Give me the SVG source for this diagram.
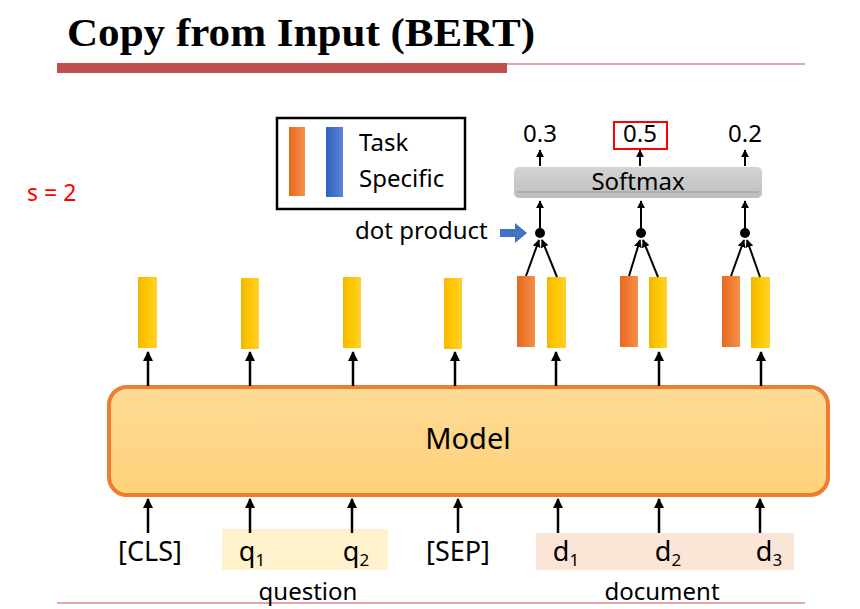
<svg xmlns="http://www.w3.org/2000/svg" width="860" height="609" viewBox="0 0 860 609">
<style>
.t{font-family:"Noto Sans","Open Sans","Liberation Sans",sans-serif;fill:#000}
.c{stroke:#000;stroke-width:2.5;fill:none}
.ct{stroke:#000;stroke-width:2;fill:none}
</style>
<defs>
<marker id="ah" viewBox="0 0 10 10" refX="9" refY="5" markerWidth="4" markerHeight="4" orient="auto"><path d="M0,0 L10,5 L0,10 z" fill="#000"/></marker>
<marker id="ahs" viewBox="0 0 10 10" refX="9" refY="5" markerWidth="4" markerHeight="4" orient="auto"><path d="M0,0 L10,5 L0,10 z" fill="#000"/></marker>
<linearGradient id="yel" x1="0" y1="0" x2="1" y2="0"><stop offset="0" stop-color="#F2B800"/><stop offset="0.5" stop-color="#FFC800"/><stop offset="1" stop-color="#FFD030"/></linearGradient>
<linearGradient id="org" x1="0" y1="0" x2="1" y2="0"><stop offset="0" stop-color="#E8691E"/><stop offset="1" stop-color="#F59048"/></linearGradient>
<linearGradient id="blu" x1="0" y1="0" x2="1" y2="0"><stop offset="0" stop-color="#2F5FC0"/><stop offset="1" stop-color="#5A85D8"/></linearGradient>
<linearGradient id="mod" x1="0" y1="0" x2="0" y2="1"><stop offset="0" stop-color="#FFDB98"/><stop offset="1" stop-color="#FFD179"/></linearGradient>
<linearGradient id="gry" x1="0" y1="0" x2="0" y2="1"><stop offset="0" stop-color="#D4D4D4"/><stop offset="1" stop-color="#BEBEBE"/></linearGradient>
</defs>

<g id="title">
<text x="67" y="46" font-family="'Liberation Serif','Times New Roman',serif" font-weight="bold" font-size="40" textLength="468" lengthAdjust="spacingAndGlyphs">Copy from Input (BERT)</text>
<rect x="57" y="63" width="450" height="10" fill="#C0504D"/>
<line x1="507" y1="64" x2="805" y2="64" stroke="#C0504D" stroke-width="1.2"/>
<line x1="57" y1="603" x2="805" y2="603" stroke="#C0504D" stroke-width="1"/>
</g>

<g id="s-label"><text class="t" x="27" y="201" font-size="23" style="fill:#FF0000">s = 2</text></g>

<g id="legend">
<rect x="277" y="118" width="188" height="91" fill="#fff" stroke="#000" stroke-width="2.5"/>
<rect x="289" y="127" width="16" height="69" fill="url(#org)"/>
<rect x="326" y="127" width="17" height="70" fill="url(#blu)"/>
<text class="t" x="359" y="151" font-size="24">Task</text>
<text class="t" x="359" y="187" font-size="24">Specific</text>
</g>

<g id="outputs">
<text class="t" x="540" y="142" font-size="24" text-anchor="middle">0.3</text>
<rect x="614" y="122" width="53" height="27" fill="none" stroke="#FF0000" stroke-width="2"/>
<text class="t" x="640" y="142" font-size="24" text-anchor="middle">0.5</text>
<text class="t" x="745" y="142" font-size="24" text-anchor="middle">0.2</text>
</g>

<g id="softmax">
<rect x="514" y="167" width="248" height="31" rx="5" fill="url(#gry)"/>
<line x1="517" y1="192" x2="759" y2="192" stroke="#9A9A9A" stroke-width="1"/>
<text class="t" x="638" y="190" font-size="24" text-anchor="middle">Softmax</text>
</g>

<g id="dot-product">
<text class="t" x="355" y="239" font-size="24">dot product</text>
<path d="M500,229 H515 V223 L527,233 L515,243 V237 H500 z" fill="#4472C4"/>
</g>

<g id="tokens-vec">
<rect x="138" y="277" width="19" height="71" fill="url(#yel)"/>
<rect x="241" y="278" width="18" height="71" fill="url(#yel)"/>
<rect x="343" y="277" width="18" height="71" fill="url(#yel)"/>
<rect x="444" y="278" width="18" height="71" fill="url(#yel)"/>
<rect x="517" y="276" width="18" height="71" fill="url(#org)"/>
<rect x="547" y="277" width="19" height="71" fill="url(#yel)"/>
<rect x="620" y="276" width="18" height="71" fill="url(#org)"/>
<rect x="649" y="277" width="18" height="71" fill="url(#yel)"/>
<rect x="722" y="276" width="18" height="71" fill="url(#org)"/>
<rect x="751" y="277" width="19" height="71" fill="url(#yel)"/>
</g>

<g id="model">
<rect x="109" y="387" width="719" height="108" rx="18" fill="url(#mod)" stroke="#ED7D31" stroke-width="4"/>
<text class="t" x="468" y="449" font-size="29" text-anchor="middle">Model</text>
</g>

<g id="inputs">
<rect x="222" y="529" width="166" height="41" fill="#FFF2CC"/>
<rect x="536" y="533" width="258" height="37" fill="#FBE5D6"/>
<text class="t" x="150" y="561" font-size="27" text-anchor="middle">[CLS]</text>
<text class="t" x="252" y="561" font-size="27" text-anchor="middle">q<tspan font-size="17" dy="5">1</tspan></text>
<text class="t" x="356" y="561" font-size="27" text-anchor="middle">q<tspan font-size="17" dy="5">2</tspan></text>
<text class="t" x="458" y="561" font-size="27" text-anchor="middle">[SEP]</text>
<text class="t" x="566" y="561" font-size="27" text-anchor="middle">d<tspan font-size="17" dy="5">1</tspan></text>
<text class="t" x="668" y="561" font-size="27" text-anchor="middle">d<tspan font-size="17" dy="5">2</tspan></text>
<text class="t" x="769" y="561" font-size="27" text-anchor="middle">d<tspan font-size="17" dy="5">3</tspan></text>
<text class="t" x="308" y="600" font-size="24" text-anchor="middle">question</text>
<text class="t" x="662" y="600" font-size="24" text-anchor="middle">document</text>
</g>

<g id="connectors">
<line class="c" x1="148" y1="533" x2="148" y2="499" marker-end="url(#ah)"/>
<line class="c" x1="250" y1="533" x2="250" y2="499" marker-end="url(#ah)"/>
<line class="c" x1="352" y1="533" x2="352" y2="499" marker-end="url(#ah)"/>
<line class="c" x1="458" y1="533" x2="458" y2="499" marker-end="url(#ah)"/>
<line class="c" x1="558" y1="533" x2="558" y2="499" marker-end="url(#ah)"/>
<line class="c" x1="659" y1="533" x2="659" y2="499" marker-end="url(#ah)"/>
<line class="c" x1="760" y1="533" x2="760" y2="499" marker-end="url(#ah)"/>
<line class="c" x1="148" y1="386" x2="148" y2="352" marker-end="url(#ah)"/>
<line class="c" x1="250" y1="386" x2="250" y2="352" marker-end="url(#ah)"/>
<line class="c" x1="353" y1="386" x2="353" y2="352" marker-end="url(#ah)"/>
<line class="c" x1="455" y1="386" x2="455" y2="352" marker-end="url(#ah)"/>
<line class="c" x1="556" y1="386" x2="556" y2="352" marker-end="url(#ah)"/>
<line class="c" x1="659" y1="386" x2="659" y2="352" marker-end="url(#ah)"/>
<line class="c" x1="761" y1="386" x2="761" y2="352" marker-end="url(#ah)"/>
<circle cx="540" cy="233" r="5" fill="#000"/>
<circle cx="641" cy="233" r="5" fill="#000"/>
<circle cx="745" cy="233" r="5" fill="#000"/>
<line class="ct" x1="526" y1="276" x2="539" y2="240" marker-end="url(#ahs)"/>
<line class="ct" x1="557" y1="277" x2="542" y2="240" marker-end="url(#ahs)"/>
<line class="ct" x1="629" y1="276" x2="640" y2="240" marker-end="url(#ahs)"/>
<line class="ct" x1="658" y1="277" x2="643" y2="240" marker-end="url(#ahs)"/>
<line class="ct" x1="731" y1="276" x2="744" y2="240" marker-end="url(#ahs)"/>
<line class="ct" x1="760" y1="277" x2="747" y2="240" marker-end="url(#ahs)"/>
<line class="ct" x1="540" y1="228" x2="540" y2="201" marker-end="url(#ah)"/>
<line class="ct" x1="641" y1="228" x2="641" y2="201" marker-end="url(#ah)"/>
<line class="ct" x1="745" y1="228" x2="745" y2="201" marker-end="url(#ah)"/>
<line class="ct" x1="540" y1="166" x2="540" y2="150" marker-end="url(#ah)"/>
<line class="ct" x1="640" y1="166" x2="640" y2="150" marker-end="url(#ah)"/>
<line class="ct" x1="745" y1="166" x2="745" y2="150" marker-end="url(#ah)"/>
</g>
</svg>
